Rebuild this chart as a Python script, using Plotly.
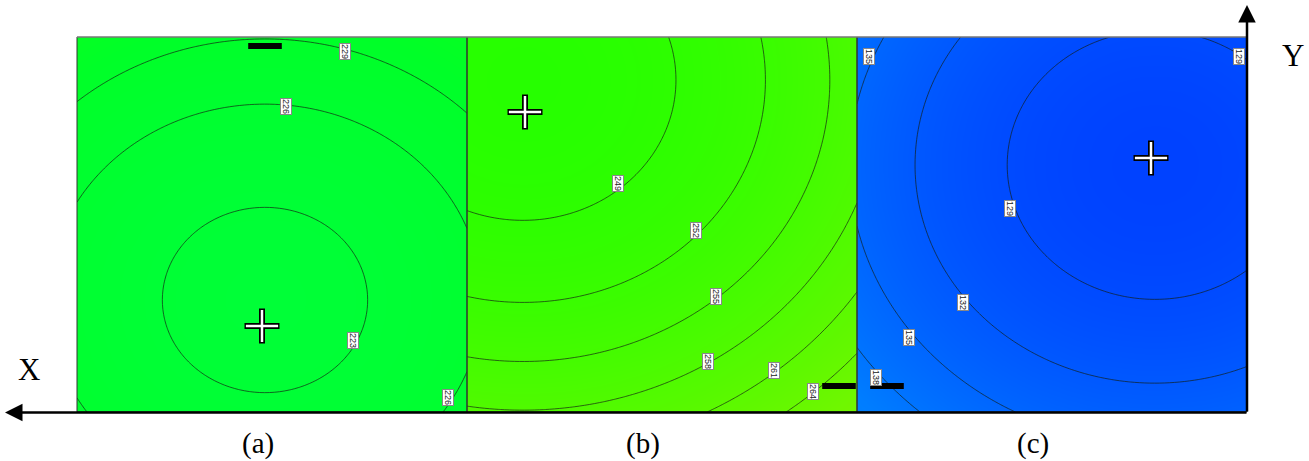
import numpy as np
import plotly.graph_objects as go

W, H = 1309, 461
PANEL_W, PANEL_H = 3.9, 3.75          # panel extent in data units

# ---- data (panel-local units, y upward) ----
panel_names = ["(a)", "(b)", "(c)"]

# field centres, x-stretch of the iso-lines, contour levels and their radii
a_center = (1.88, 1.12); a_stretch = 1.108
a_levels = [223, 226, 229]; a_radii = [0.925, 1.96, 2.61]

b_center = (0.56, 3.32); b_stretch = 1.09
b_levels = [249, 252, 255, 258, 261, 264]; b_radii = [1.39, 2.23, 2.82, 3.31, 3.71, 4.11]

c_center = (2.98, 2.47); c_stretch = 1.10
c_levels = [129, 132, 135, 138]; c_radii = [1.35, 2.18, 2.77, 3.27]

# cross markers (source positions)
cross_x = [1.85, 0.58, 2.94]
cross_y = [0.86, 3.00, 2.54]
# black bar markers
bar_x = [1.88, 3.72, 0.30]
bar_y = [3.66, 0.26, 0.26]

# contour-label positions and texts
a_lab_x = [2.68, 2.09, 2.76, 3.71]; a_lab_y = [3.61, 3.06, 0.72, 0.15]; a_lab_t = ["229", "226", "223", "226"]
b_lab_x = [1.51, 2.29, 2.49, 2.41, 3.07, 3.46]; b_lab_y = [2.29, 1.82, 1.16, 0.51, 0.42, 0.21]
b_lab_t = ["249", "252", "255", "258", "261", "264"]
c_lab_x = [0.12, 3.82, 1.53, 1.06, 0.52, 0.19]; c_lab_y = [3.56, 3.56, 2.04, 1.10, 0.75, 0.35]
c_lab_t = ["135", "129", "129", "132", "135", "138"]

# colour scale (value -> rgb)
cs_values = [120, 127, 140, 180, 222, 230, 247, 258, 270]
cs_colors = ["rgb(0,35,255)", "rgb(0,65,255)", "rgb(0,125,255)", "rgb(0,215,200)",
             "rgb(0,255,55)", "rgb(0,255,40)", "rgb(38,255,0)", "rgb(80,250,0)", "rgb(125,245,0)"]
ZMIN, ZMAX = cs_values[0], cs_values[-1]
colorscale = [[(v - ZMIN) / (ZMAX - ZMIN), c] for v, c in zip(cs_values, cs_colors)]

panels = [
    (a_center, a_stretch, a_levels, a_radii, a_lab_x, a_lab_y, a_lab_t),
    (b_center, b_stretch, b_levels, b_radii, b_lab_x, b_lab_y, b_lab_t),
    (c_center, c_stretch, c_levels, c_radii, c_lab_x, c_lab_y, c_lab_t),
]

left_px = [77, 467, 857]
right_px = [467, 857, 1247]
caption_px = [258, 643, 1033]
top_px, bot_px = 37, 412

fig = go.Figure()
u = np.linspace(0, PANEL_W, 157)
v = np.linspace(0, PANEL_H, 151)
U, V = np.meshgrid(u, v)

annotations = []
shapes = []
layout_axes = {}

for i, (cen, st, levels, radii, lx, ly, lt) in enumerate(panels):
    xa = "x" if i == 0 else f"x{i+1}"
    ya = "y" if i == 0 else f"y{i+1}"
    xkey = "xaxis" if i == 0 else f"xaxis{i+1}"
    ykey = "yaxis" if i == 0 else f"yaxis{i+1}"
    # value grows linearly with squared (stretched) distance: fit from read levels
    k, c0 = np.polyfit(np.array(radii) ** 2, np.array(levels), 1)
    R2 = ((U - cen[0]) / st) ** 2 + (V - cen[1]) ** 2
    Z = c0 + k * R2
    fig.add_trace(go.Contour(
        x=u, y=v, z=Z, xaxis=xa, yaxis=ya,
        colorscale=colorscale, zmin=ZMIN, zmax=ZMAX, showscale=False,
        contours=dict(start=levels[0], end=levels[-1], size=levels[1] - levels[0],
                      coloring="heatmap", showlabels=False),
        line=dict(color="rgba(20,30,20,0.85)", width=0.8, smoothing=1.0),
        hoverinfo="skip",
    ))
    # cross marker (black outline + white)
    fig.add_trace(go.Scatter(x=[cross_x[i]], y=[cross_y[i]], xaxis=xa, yaxis=ya, mode="markers",
                             marker=dict(symbol="cross-thin", size=25, line=dict(width=6, color="black")),
                             hoverinfo="skip", showlegend=False))
    fig.add_trace(go.Scatter(x=[cross_x[i]], y=[cross_y[i]], xaxis=xa, yaxis=ya, mode="markers",
                             marker=dict(symbol="cross-thin", size=23, line=dict(width=2.5, color="white")),
                             hoverinfo="skip", showlegend=False))
    # bar marker
    fig.add_trace(go.Scatter(x=[bar_x[i]], y=[bar_y[i]], xaxis=xa, yaxis=ya, mode="markers",
                             marker=dict(symbol="line-ew", size=24, line=dict(width=6, color="black")),
                             hoverinfo="skip", showlegend=False))
    for x0, y0, t in zip(lx, ly, lt):
        annotations.append(dict(x=x0, y=y0, xref=xa, yref=ya, text=t, showarrow=False, textangle=90,
                                xanchor="center", yanchor="middle",
                                font=dict(family="Liberation Sans", size=9, color="#222"),
                                bgcolor="white", bordercolor="#888", borderwidth=1, borderpad=0))
    layout_axes[xkey] = dict(domain=[left_px[i] / W, right_px[i] / W], range=[0, PANEL_W],
                             showgrid=False, zeroline=False, showticklabels=False, ticks="",
                             showline=False, anchor=ya, fixedrange=True)
    layout_axes[ykey] = dict(domain=[(H - bot_px) / H, (H - top_px) / H], range=[0, PANEL_H],
                             showgrid=False, zeroline=False, showticklabels=False, ticks="",
                             showline=False, anchor=xa, fixedrange=True)
    # panel frame
    shapes.append(dict(type="rect", xref="paper", yref="paper",
                       x0=left_px[i] / W, x1=right_px[i] / W,
                       y0=(H - bot_px) / H, y1=(H - top_px) / H,
                       line=dict(color="#333", width=1)))
    # panel caption
    annotations.append(dict(x=caption_px[i] / W, y=(H - 443) / H, xanchor="center", yanchor="middle",
                            xref="paper", yref="paper", text=panel_names[i], showarrow=False,
                            font=dict(family="Liberation Serif", size=29, color="black")))

# top edge in grey
shapes.append(dict(type="line", xref="paper", yref="paper", x0=77 / W, x1=1247 / W,
                   y0=(H - top_px) / H, y1=(H - top_px) / H, line=dict(color="#999", width=1)))

# axis arrows
annotations.append(dict(x=5 / W, y=(H - 412.5) / H, xref="paper", yref="paper", text="",
                        showarrow=True, axref="pixel", ayref="pixel", ax=1243, ay=0,
                        arrowhead=2, arrowsize=1.4, arrowwidth=2.5, arrowcolor="black"))
annotations.append(dict(x=1247 / W, y=(H - 5) / H, xref="paper", yref="paper", text="",
                        showarrow=True, axref="pixel", ayref="pixel", ax=0, ay=408,
                        arrowhead=2, arrowsize=1.4, arrowwidth=2.5, arrowcolor="black"))
annotations.append(dict(x=29 / W, y=(H - 369) / H, xref="paper", yref="paper", text="X",
                        xanchor="center", yanchor="middle",
                        showarrow=False, font=dict(family="Liberation Serif", size=31, color="black")))
annotations.append(dict(x=1293 / W, y=(H - 56) / H, xref="paper", yref="paper", text="Y",
                        xanchor="center", yanchor="middle",
                        showarrow=False, font=dict(family="Liberation Serif", size=31, color="black")))

fig.update_layout(width=W, height=H, margin=dict(l=0, r=0, t=0, b=0),
                  paper_bgcolor="white", plot_bgcolor="white", showlegend=False,
                  annotations=annotations, shapes=shapes, **layout_axes)

fig.write_html("out.html", config={"displayModeBar": False},
               post_script="document.body.style.margin='0';document.body.style.padding='0';")
